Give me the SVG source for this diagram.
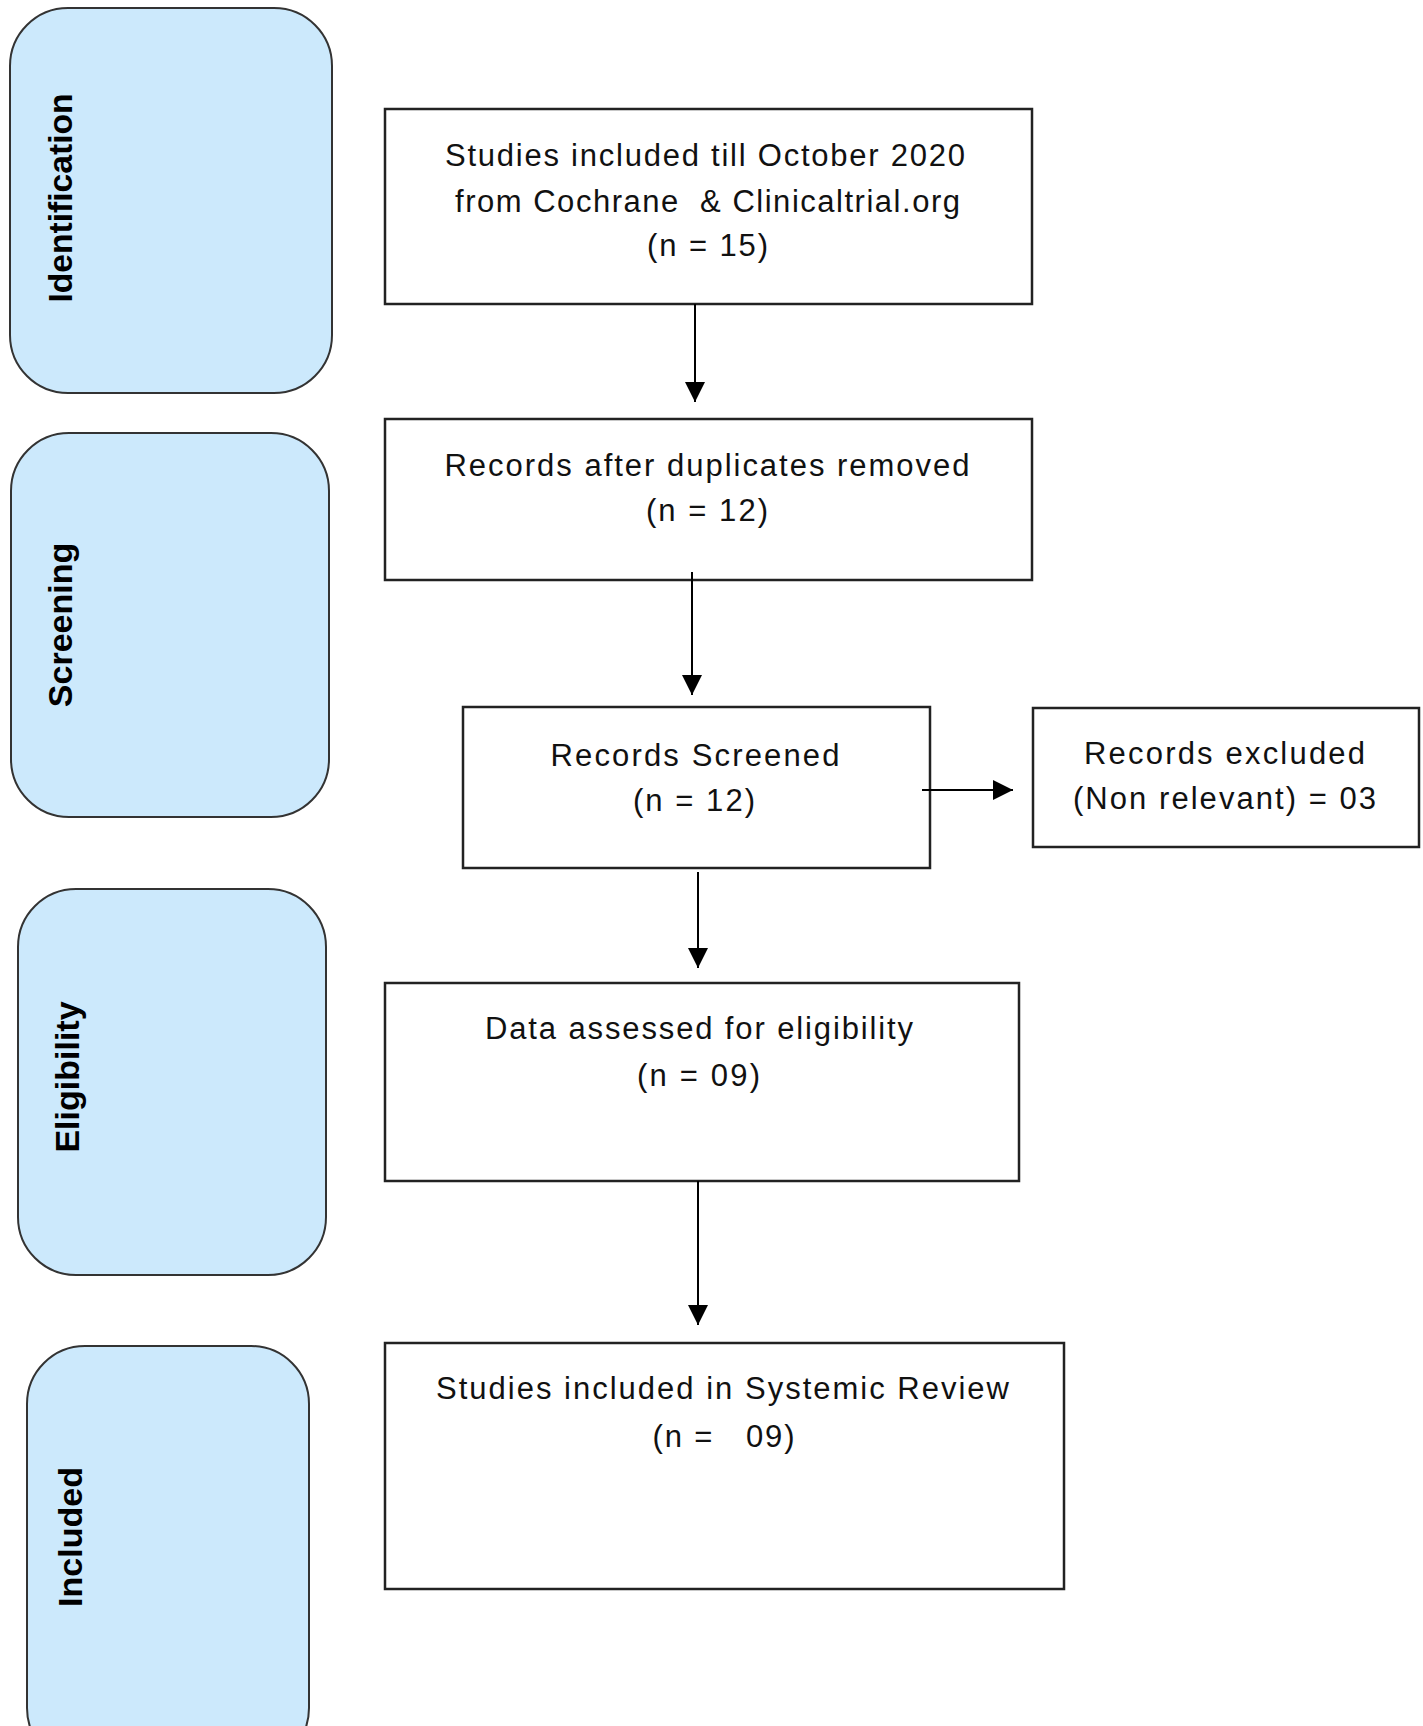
<svg xmlns="http://www.w3.org/2000/svg" width="1423" height="1726" viewBox="0 0 1423 1726">
<style>
.phase{fill:#cce9fc;stroke:#333;stroke-width:2}
.box{fill:#fff;stroke:#222;stroke-width:2.5}
.lbl{font-family:"Liberation Sans",Arial,sans-serif;font-weight:bold;font-size:34px;fill:#000;text-anchor:middle}
.t{font-family:"Liberation Sans",Arial,sans-serif;font-size:31px;fill:#111;text-anchor:middle}
.conn{stroke:#000;stroke-width:2;fill:none;marker-end:url(#ah)}
</style>
<defs>
<marker id="ah" markerUnits="userSpaceOnUse" markerWidth="20" markerHeight="20" refX="20" refY="10" orient="auto" viewBox="0 0 20 20">
<path d="M0,0 L20,10 L0,20 z" fill="#000"/>
</marker>
</defs>
<rect width="1423" height="1726" fill="#fff"/>
<g id="phase-identification">
<rect class="phase" x="10" y="8" width="322" height="385" rx="58" ry="58"/>
<text class="lbl" transform="translate(72,198) rotate(-90)" textLength="209" lengthAdjust="spacingAndGlyphs">Identification</text>
</g>
<g id="phase-screening">
<rect class="phase" x="11" y="433" width="318" height="384" rx="58" ry="58"/>
<text class="lbl" transform="translate(72,625) rotate(-90)">Screening</text>
</g>
<g id="phase-eligibility">
<rect class="phase" x="18" y="889" width="308" height="386" rx="58" ry="58"/>
<text class="lbl" transform="translate(79,1077) rotate(-90)">Eligibility</text>
</g>
<g id="phase-included">
<rect class="phase" x="27" y="1346" width="282" height="420" rx="58" ry="58"/>
<text class="lbl" transform="translate(82,1537) rotate(-90)">Included</text>
</g>
<g id="n1">
<rect class="box" x="385" y="109" width="647" height="195"/>
<text class="t" x="705" y="166" textLength="520" lengthAdjust="spacing">Studies included till October 2020</text>
<text class="t" x="707.5" y="212" textLength="505" lengthAdjust="spacing" xml:space="preserve">from Cochrane  &amp; Clinicaltrial.org</text>
<text class="t" x="707.5" y="256" textLength="121" lengthAdjust="spacing">(n = 15)</text>
</g>
<g id="n2">
<rect class="box" x="385" y="419" width="647" height="161"/>
<text class="t" x="707" y="476" textLength="525" lengthAdjust="spacing">Records after duplicates removed</text>
<text class="t" x="707" y="521" textLength="122" lengthAdjust="spacing">(n = 12)</text>
</g>
<g id="n3">
<rect class="box" x="463" y="707" width="467" height="161"/>
<text class="t" x="695" y="766" textLength="289" lengthAdjust="spacing">Records Screened</text>
<text class="t" x="694" y="811" textLength="122" lengthAdjust="spacing">(n = 12)</text>
</g>
<g id="n4">
<rect class="box" x="1033" y="708" width="386" height="139"/>
<text class="t" x="1224.5" y="764" textLength="281" lengthAdjust="spacing">Records excluded</text>
<text class="t" x="1224.5" y="809" textLength="303" lengthAdjust="spacing">(Non relevant) = 03</text>
</g>
<g id="n5">
<rect class="box" x="385" y="983" width="634" height="198"/>
<text class="t" x="699" y="1039" textLength="428" lengthAdjust="spacing">Data assessed for eligibility</text>
<text class="t" x="698.5" y="1086" textLength="123" lengthAdjust="spacing">(n = 09)</text>
</g>
<g id="n6">
<rect class="box" x="385" y="1343" width="679" height="246"/>
<text class="t" x="722.5" y="1399" textLength="573" lengthAdjust="spacing">Studies included in Systemic Review</text>
<text class="t" x="723.5" y="1447" textLength="142" lengthAdjust="spacing" xml:space="preserve">(n =   09)</text>
</g>
<g id="connectors">
<line class="conn" x1="695" y1="304" x2="695" y2="402"/>
<line class="conn" x1="692" y1="572" x2="692" y2="695"/>
<line class="conn" x1="698" y1="872" x2="698" y2="968"/>
<line class="conn" x1="698" y1="1181" x2="698" y2="1325"/>
<line class="conn" x1="922" y1="790" x2="1013" y2="790"/>
</g>
</svg>
